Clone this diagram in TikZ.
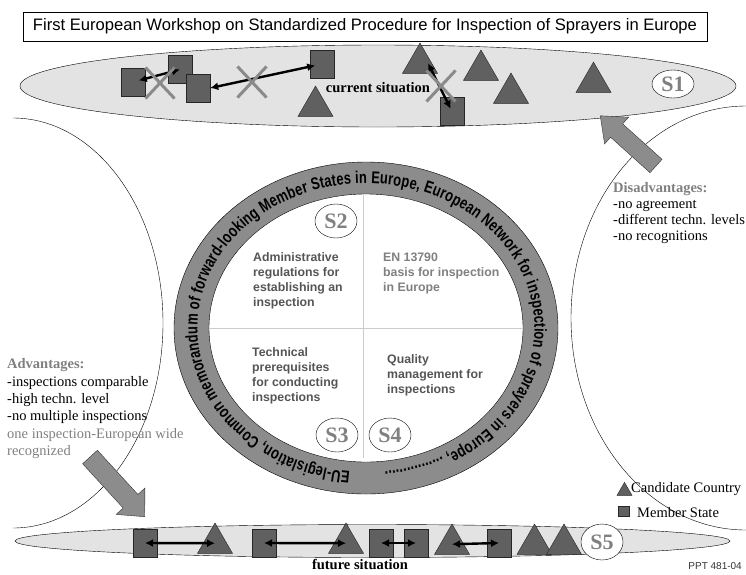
\documentclass[tikz,border=0pt]{standalone}
\usepackage{fontspec}
\setmainfont{Liberation Serif}
\setsansfont{Liberation Sans}
\newfontfamily\ringfont[FakeStretch=0.76]{Liberation Sans}
\usetikzlibrary{shapes.geometric,shapes.misc,arrows.meta,decorations.text}
\definecolor{boxgray}{HTML}{606060}
\definecolor{ovalgray}{HTML}{E3E3E3}
\definecolor{ringgray}{HTML}{8C8C8C}
\definecolor{crossgray}{HTML}{8A8A8A}
\definecolor{txtgray}{HTML}{808080}
\definecolor{darktxt}{HTML}{555555}
\begin{document}
\begin{tikzpicture}[x=1pt,y=-1pt,
  member/.style={draw=black!85,fill=boxgray,minimum width=24pt,minimum height=28pt,inner sep=0pt},
  cand/.style={regular polygon,regular polygon sides=3,draw=black!85,fill=boxgray,minimum size=40.4pt,inner sep=0pt},
  nogo/.style={cross out,draw=crossgray,line width=3pt,minimum width=26pt,minimum height=28pt,inner sep=0pt},
  link/.style={{Latex[length=8pt,width=8pt]}-{Latex[length=8pt,width=8pt]},line width=2.4pt},
  badge/.style={ellipse,draw,fill=white,inner sep=0pt,minimum width=42pt,minimum height=34pt,text=txtgray,font=\fontsize{22}{22}\selectfont\bfseries},
  quad/.style={anchor=north west,align=left,inner sep=0pt,text=darktxt,font=\sffamily\bfseries\fontsize{12.3}{15}\selectfont},
  side/.style={anchor=north west,align=left,inner sep=0pt},
  bigarrow/.style={draw=black!80,fill=ringgray}]
\useasboundingbox (0,0) rectangle (746,574);
\draw (13,118) .. controls (95.8,118) and (163,209.8) .. (163,323) .. controls (163,436.2) and (95.8,528) .. (13,528);
\draw (746,106) .. controls (649.3,106) and (571,200.9) .. (571,318) .. controls (571,435.1) and (649.3,530) .. (746,530);
\node[draw,inner sep=0pt,minimum width=684pt,minimum height=29pt,font=\sffamily\fontsize{16.6}{16.6}\selectfont] (title) at (365,26.5) {First European Workshop on Standardized Procedure for Inspection of Sprayers in Europe};
\node[ellipse,draw,fill=ovalgray,minimum width=716pt,minimum height=82pt,inner sep=0pt] (now) at (378,86) {};
\node[ellipse,draw,fill=ovalgray,minimum width=715pt,minimum height=33pt,inner sep=0pt] (later) at (372.5,541) {};
% the ring
\begin{scope}[shift={(366,328)},y=1pt]
\draw[fill=ringgray] (0,0) ellipse[x radius=192,y radius=166];
\draw[fill=white] (0,0) ellipse[x radius=157,y radius=134];
\path[decorate,decoration={text along path,text align={fit to path},
  text={|\ringfont\bfseries\fontsize{17}{17}\selectfont|EU-legislation, Common memorandum of forward-looking Member States in Europe, European Network for inspection of sprayers in Europe, ................}}]
  (-95.4:168.5 and 144.5) arc[start angle=-95.4,end angle=-443.6,x radius=168.5,y radius=144.5];
\end{scope}
\draw[black!20] (363,195) -- (363,458);
\draw[black!20] (209,328) -- (523,328);
\node[quad] (adm) at (253,252.5) {Administrative\\regulations for\\establishing an\\inspection};
\node[quad,text=txtgray] (en) at (383,252.5) {EN 13790\\basis for inspection\\in Europe};
\node[quad] (tech) at (252,347.5) {Technical\\prerequisites\\for conducting\\inspections};
\node[quad] (qm) at (387,354.5) {Quality\\management for\\inspections};
\node[badge] (s2) at (336,221) {S2};
\node[badge] (s3) at (337,435) {S3};
\node[badge] (s4) at (390,435) {S4};
% current situation
\foreach \nm/\px/\py in {t1/315.5/106.2, t2/420/63.2, t3/481/70.2, t4/511/93.2, t5/593.5/82.2}
  \node[cand] (\nm) at (\px,\py) {};
\foreach \nm/\px/\py in {m1/133/82, m2/180/69.5, m3/198/88, m4/322/64, m5/452/111.5}
  \node[member] (\nm) at (\px,\py) {};
\draw[link,shorten <=6pt] (m1.center) -- (m2.center);
\draw[link,shorten >=7pt] (m3.east) -- (m4.center);
\draw[link,shorten >=3pt] ([xshift=8pt]t2.center) -- (m5.center);
\node[nogo] (x1) at (160,83) {};
\node[nogo] (x2) at (252,82) {};
\node[nogo] (x3) at (441,86) {};
\node[font=\bfseries\fontsize{14.5}{14.5}\selectfont] (nowlbl) at (378,88) {current situation};
\node[badge,minimum height=28pt] (s1) at (673,84) {S1};
% future situation
\foreach \nm/\px/\py in {fb/215/543.2, fd/346/543.2, fg/452/544.2, fi/534.5/544.2, fj/564/544.2}
  \node[cand] (\nm) at (\px,\py) {};
\foreach \nm/\px/\py in {fa/145/543, fc/264/543, fe/381/543, ff/416/543, fh/499/543}
  \node[member] (\nm) at (\px,\py) {};
\draw[link] (fa.center) -- (fb.center);
\draw[link] (fc.center) -- (fd.center);
\draw[link] (fe.center) -- (ff.center);
\draw[link] (fg.center) -- (fh.center);
\node[badge,minimum height=36pt] (s5) at (602,542) {S5};
\node[font=\bfseries\fontsize{14.5}{14.5}\selectfont] (laterlbl) at (360,564) {future situation};
% big arrows
\begin{scope}[shift={(90,457)},rotate=-47.5]
\draw[bigarrow] (0,-10) -- (60,-10) -- (60,-19.5) -- (81,0) -- (60,19.5) -- (60,10) -- (0,10) -- cycle;
\end{scope}
\begin{scope}[shift={(656,166)},rotate=138]
\draw[bigarrow] (0,-9) -- (53,-9) -- (53,-18) -- (75,0) -- (53,18) -- (53,9) -- (0,9) -- cycle;
\end{scope}
\node[side,font=\fontsize{14.5}{17.4}\selectfont] (pro) at (7,358.5) {\textcolor{txtgray}{\bfseries Advantages:}\\-inspections comparable\\-high techn. level\\-no multiple inspections\\\textcolor{txtgray}{one inspection-European wide}\\\textcolor{txtgray}{recognized}};
\node[side,font=\fontsize{14.5}{16}\selectfont] (contra) at (613,182.5) {\textcolor{txtgray}{\bfseries Disadvantages:}\\-no agreement\\-different techn. levels\\-no recognitions};
% legend
\node[cand,minimum size=17.3pt] (lgc) at (624.5,491) {};
\node[anchor=west,inner sep=0pt,font=\fontsize{14.5}{14.5}\selectfont] (lgctxt) at (631,489) {Candidate Country};
\node[member,minimum width=11pt,minimum height=10pt] (lgm) at (623.5,511.5) {};
\node[anchor=west,inner sep=0pt,font=\fontsize{14.5}{14.5}\selectfont] (lgmtxt) at (637,513) {Member State};
\node[anchor=east,inner sep=0pt,text=black!80,font=\sffamily\fontsize{10}{10}\selectfont] (ppt) at (742,566) {PPT 481-04};
\end{tikzpicture}
\end{document}
